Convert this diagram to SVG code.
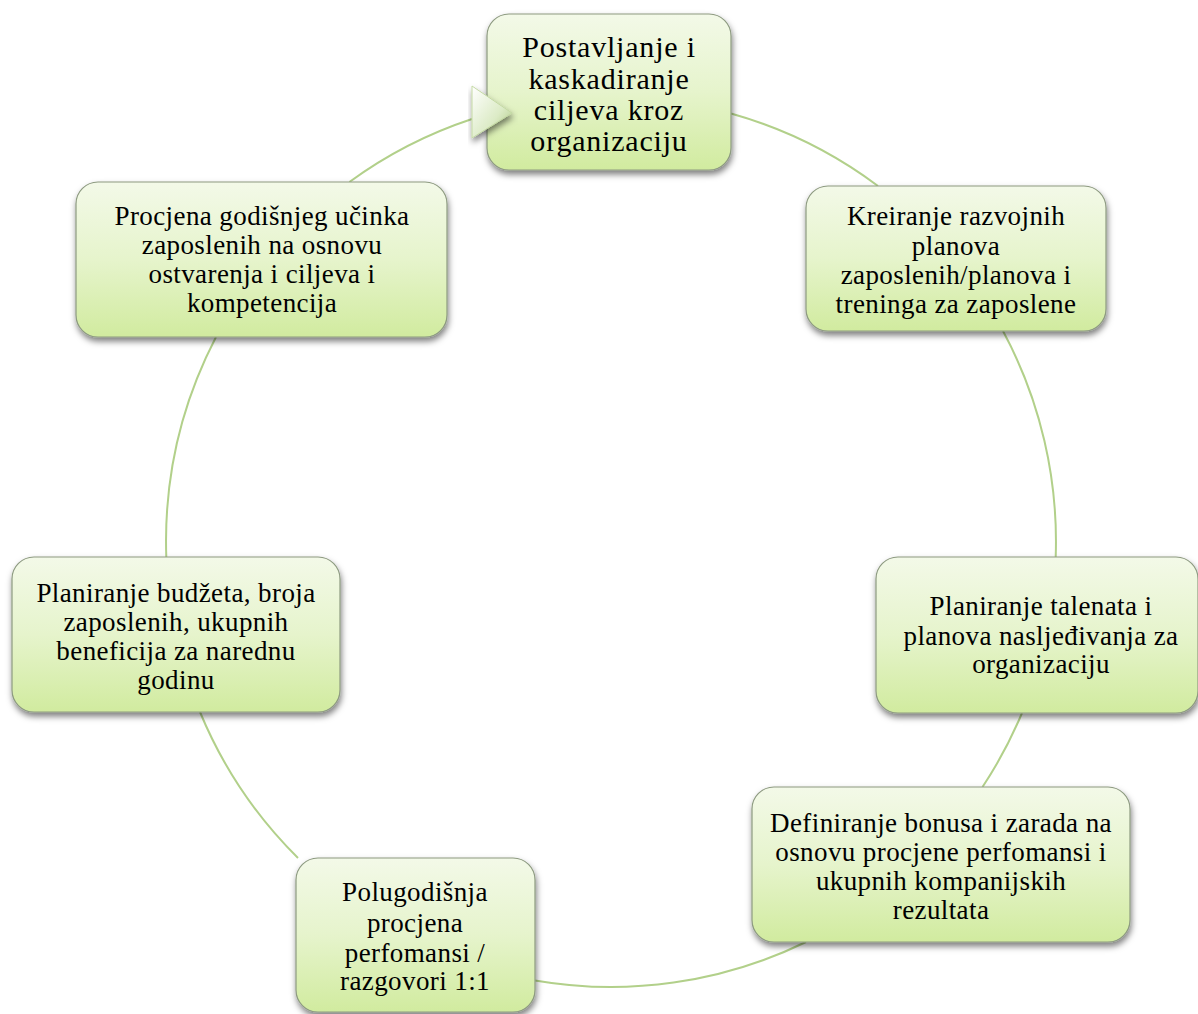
<svg xmlns="http://www.w3.org/2000/svg" width="1198" height="1014" viewBox="0 0 1198 1014">
<defs>
<linearGradient id="nodeFill" x1="0" y1="0" x2="0" y2="1">
<stop offset="0" stop-color="#f3f9e8"/>
<stop offset="0.5" stop-color="#e6f4cc"/>
<stop offset="1" stop-color="#d1eb9f"/>
</linearGradient>
<linearGradient id="arrowFill" x1="0" y1="0" x2="1" y2="1">
<stop offset="0" stop-color="#ffffff"/>
<stop offset="0.6" stop-color="#dcebc6"/>
<stop offset="1" stop-color="#a9c57e"/>
</linearGradient>
<filter id="shadow" x="-10%" y="-10%" width="125%" height="130%">
<feDropShadow dx="1" dy="4" stdDeviation="3" flood-color="#000" flood-opacity="0.5"/>
</filter>
</defs>
<style>
.node rect{fill:url(#nodeFill);stroke:#8d9a80;stroke-width:1.2;filter:url(#shadow)}
.node text{font-family:"Liberation Serif","Times New Roman",serif;font-size:27px;letter-spacing:0.4px;fill:#000;text-anchor:middle}
.big text{font-size:30px;letter-spacing:0.8px}
.conn path{fill:none;stroke:#b2d08a;stroke-width:2}
</style>
<rect width="1198" height="1014" fill="#fff"/>
<g id="connectors" class="conn">
<path d="M731,113.5 A445,445 0 0 1 878,186"/>
<path d="M1003,331 A445,445 0 0 1 1055.7,557"/>
<path d="M1022,713 A445,445 0 0 1 982.5,787"/>
<path d="M806,942 A445,445 0 0 1 535,980.5"/>
<path d="M298,858 A445,445 0 0 1 200,712"/>
<path d="M166.3,557 A445,445 0 0 1 216,337"/>
<path d="M349.4,182 A445,445 0 0 1 472,119"/>
</g>
<g id="node1" class="node big">
<rect x="487" y="14" width="244" height="156" rx="22"/>
<text x="609" y="57">Postavljanje i</text>
<text x="609" y="89">kaskadiranje</text>
<text x="609" y="120">ciljeva kroz</text>
<text x="609" y="151">organizaciju</text>
</g>
<g id="node2" class="node">
<rect x="806" y="186" width="300" height="145" rx="22"/>
<text x="956" y="225">Kreiranje razvojnih</text>
<text x="956" y="255">planova</text>
<text x="956" y="284">zaposlenih/planova i</text>
<text x="956" y="313">treninga za zaposlene</text>
</g>
<g id="node3" class="node">
<rect x="876" y="557" width="322" height="156" rx="22"/>
<text x="1041" y="615">Planiranje talenata i</text>
<text x="1041" y="645">planova nasljeđivanja za</text>
<text x="1041" y="673">organizaciju</text>
</g>
<g id="node4" class="node">
<rect x="752" y="787" width="378" height="155" rx="22"/>
<text x="941" y="832">Definiranje bonusa i zarada na</text>
<text x="941" y="861">osnovu procjene perfomansi i</text>
<text x="941" y="890">ukupnih kompanijskih</text>
<text x="941" y="919">rezultata</text>
</g>
<g id="node5" class="node">
<rect x="296" y="858" width="239" height="154" rx="22"/>
<text x="415" y="901">Polugodišnja</text>
<text x="415" y="932">procjena</text>
<text x="415" y="962">perfomansi /</text>
<text x="415" y="990">razgovori 1:1</text>
</g>
<g id="node6" class="node">
<rect x="12" y="557" width="328" height="155" rx="22"/>
<text x="176" y="602">Planiranje budžeta, broja</text>
<text x="176" y="631">zaposlenih, ukupnih</text>
<text x="176" y="660">beneficija za narednu</text>
<text x="176" y="689">godinu</text>
</g>
<g id="node7" class="node">
<rect x="76" y="182" width="371" height="155" rx="22"/>
<text x="262" y="225">Procjena godišnjeg učinka</text>
<text x="262" y="254">zaposlenih na osnovu</text>
<text x="262" y="283">ostvarenja i ciljeva i</text>
<text x="262" y="312">kompetencija</text>
</g>
<g id="arrowhead">
<polygon points="472,86 512,113 472,138" fill="url(#arrowFill)" stroke="#c4d9a4" stroke-width="1" filter="url(#shadow)"/>
</g>
</svg>
